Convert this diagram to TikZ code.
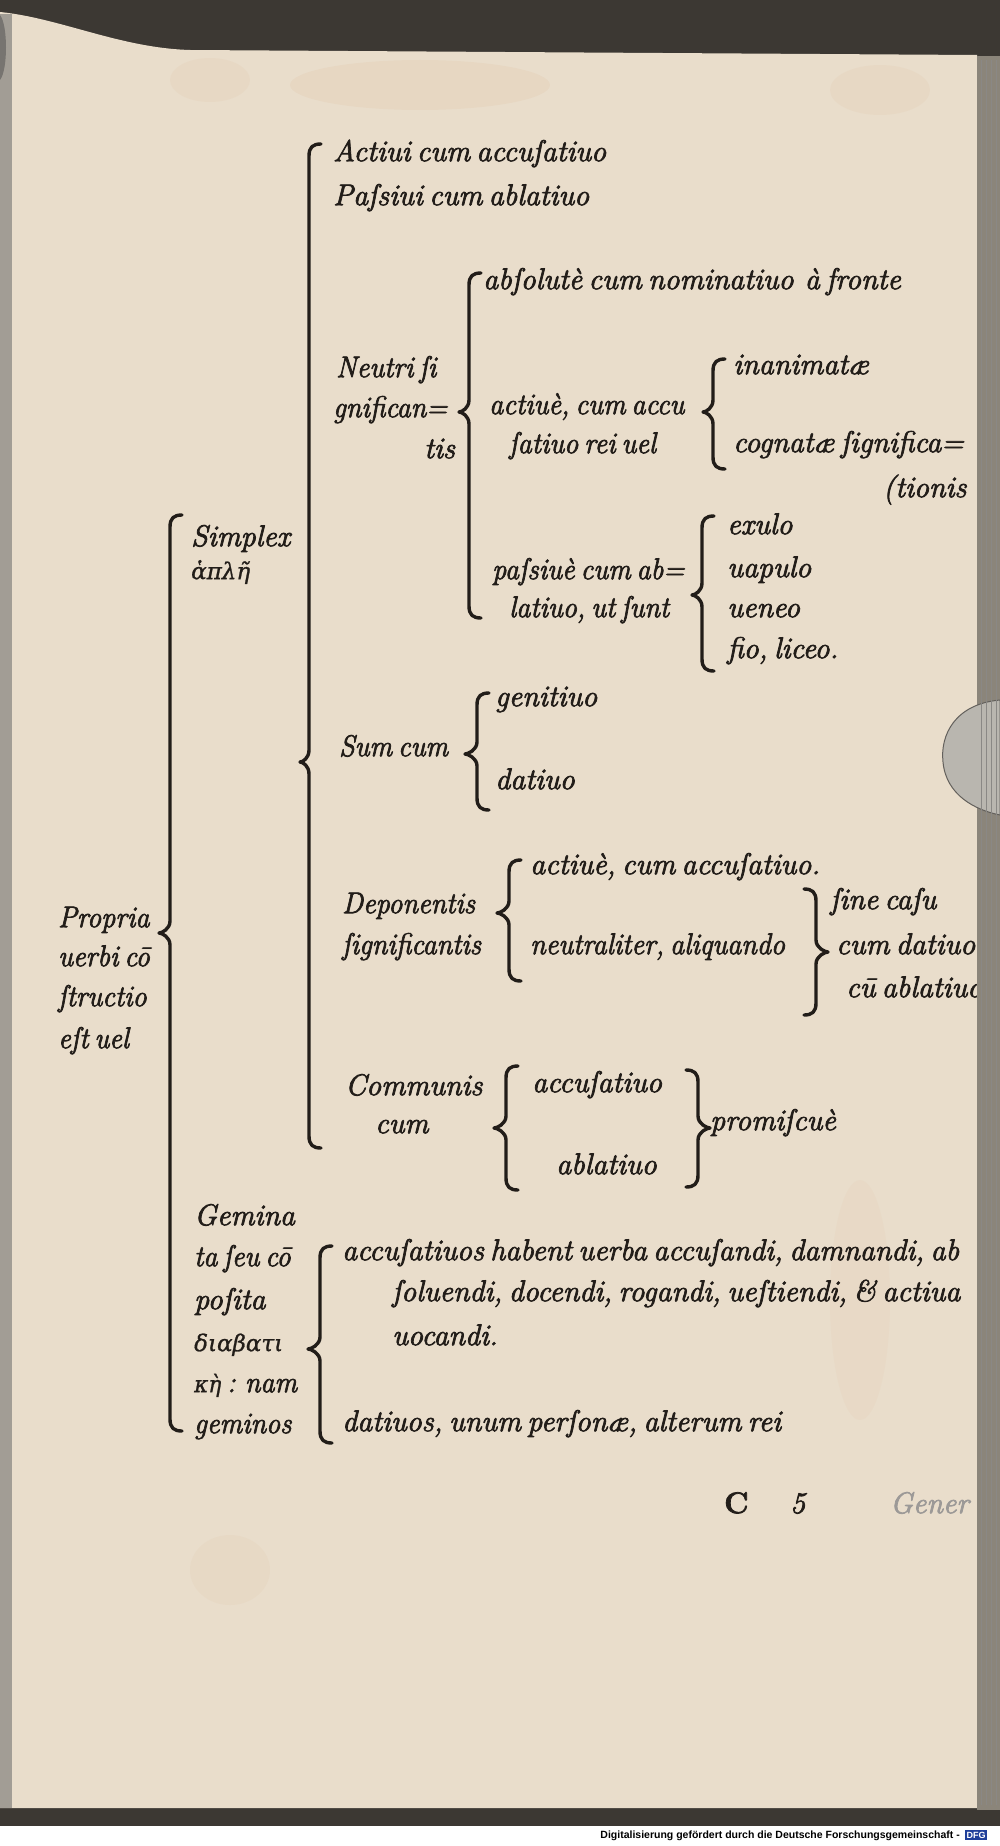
\documentclass[tikz,border=0pt]{standalone}
\usepackage{fontspec}
\newfontfamily\grk{DejaVu Serif}[FakeBold=1]
\newfontfamily\heavy{Latin Modern Roman}[FakeBold=2.5,WordSpace=0.6]
\newfontfamily\footfont{Liberation Sans}
\definecolor{ink}{HTML}{221D19}
\definecolor{paper}{HTML}{E9DDCB}
\definecolor{framec}{HTML}{3C3833}
\definecolor{edgec}{HTML}{8B857A}
\definecolor{stain}{HTML}{D9A77A}
\definecolor{dfgblue}{HTML}{1F3F9A}
\newcommand{\lbrk}[5]{%
\draw[brk] ({#1+12},{#2}) .. controls ({#1+4},{#2}) and ({#1},{#2+3}) .. ({#1},{#2+12})
 -- ({#1},{#3-12}) .. controls ({#1},{#3-4}) and ({#1-#5+3},{#3}) .. ({#1-#5},{#3})
 .. controls ({#1-#5+3},{#3}) and ({#1},{#3+4}) .. ({#1},{#3+12})
 -- ({#1},{#4-12}) .. controls ({#1},{#4-3}) and ({#1+4},{#4}) .. ({#1+12},{#4});}
\newcommand{\rbrk}[5]{%
\draw[brk] ({#1-12},{#2}) .. controls ({#1-4},{#2}) and ({#1},{#2+3}) .. ({#1},{#2+12})
 -- ({#1},{#3-12}) .. controls ({#1},{#3-4}) and ({#1+#5-3},{#3}) .. ({#1+#5},{#3})
 .. controls ({#1+#5-3},{#3}) and ({#1},{#3+4}) .. ({#1},{#3+12})
 -- ({#1},{#4-12}) .. controls ({#1},{#4-3}) and ({#1-4},{#4}) .. ({#1-12},{#4});}
\begin{document}
\begin{tikzpicture}[x=1pt,y=-1pt,
  txt/.style={anchor=mid west, inner sep=0pt, text=ink, font=\fontsize{30}{34}\selectfont\heavy\itshape},
  tight/.style={txt, xscale=0.94, transform shape},
  gtxt/.style={anchor=mid west, inner sep=0pt, text=ink, font=\fontsize{23}{26}\selectfont\grk\itshape},
  brk/.style={draw=ink, line width=3.4pt, line cap=round, line join=round}]
\useasboundingbox (0,0) rectangle (1000,1846);
% background
\fill[framec] (0,0) rectangle (1000,1846);
\fill[white] (0,1826) rectangle (1000,1846);
\fill[paper] (0,12) .. controls (60,18) and (120,48) .. (190,50) -- (977,55) -- (977,1808) -- (0,1808) -- cycle;
\fill[edgec!80!white] (0,14) rectangle (12,1808);
\fill[framec!70] (0,15) .. controls (8,25) and (8,70) .. (0,80) -- cycle;
\fill[edgec] (977,56) rectangle (1000,1810);
\foreach \xx in {981,986,991,996} \draw[framec!60, line width=0.8pt] (\xx,60) -- (\xx,1805);
\fill[stain, opacity=0.10] (420,85) ellipse (130 and 25);
\fill[stain, opacity=0.08] (210,80) ellipse (40 and 22);
\fill[stain, opacity=0.08] (880,90) ellipse (50 and 25);
\fill[stain, opacity=0.07] (230,1570) ellipse (40 and 35);
\fill[stain, opacity=0.06] (860,1300) ellipse (30 and 120);
% clip tab at right
\fill[edgec!60!white, draw=framec!80, line width=1pt] (1000,700) .. controls (955,704) and (940,735) .. (943,762) .. controls (946,795) and (975,810) .. (1000,815) -- cycle;

% brackets
\lbrk{309}{144}{762}{1148}{9}
\lbrk{469}{273}{412}{618}{10}
\lbrk{713}{359}{412}{469}{10}
\lbrk{702}{516}{595}{671}{10}
\lbrk{477}{693}{754}{810}{12}
\lbrk{509}{860}{913}{981}{12}
\rbrk{816}{889}{952}{1015}{12}
\lbrk{506}{1066}{1128}{1190}{12}
\rbrk{698}{1070}{1128}{1187}{12}
\lbrk{320}{1246}{1349}{1443}{12}
\lbrk{170}{515}{933}{1431}{11}

% texts
\node[txt] (t1) at (333,159) {Actiui cum accuſatiuo};
\node[txt] (t2) at (333,203) {Paſsiui cum ablatiuo};
\node[txt] (t3) at (483,287) {abſolutè cum nominatiuo\, à fronte};
\node[tight] (t4) at (336,375) {Neutri ſi};
\node[tight] (t5) at (333,415) {gnifican=};
\node[txt] (t6) at (424,456) {tis};
\node[tight] (t7) at (489,412) {actiuè, cum accu};
\node[tight] (t8) at (509,451) {ſatiuo rei uel};
\node[txt] (t9) at (733,372) {inanimatæ};
\node[txt] (t10) at (733,450) {cognatæ ſignifica=};
\node[txt] (t11) at (883,495) {(tionis};
\node[txt] (t12) at (191,544) {Simplex};
\node[gtxt] (t13) at (191,577) {ἁπλῆ};
\node[tight] (t14) at (492,577) {paſsiuè cum ab=};
\node[tight] (t15) at (509,615) {latiuo, ut ſunt};
\node[txt] (t16) at (727,532) {exulo};
\node[txt] (t17) at (727,575) {uapulo};
\node[txt] (t18) at (727,615) {ueneo};
\node[txt] (t19) at (727,656) {fio, liceo.};
\node[tight] (t20) at (339,754) {Sum cum};
\node[txt] (t21) at (495,704) {genitiuo};
\node[txt] (t22) at (495,787) {datiuo};
\node[tight] (t23) at (342,911) {Deponentis};
\node[tight] (t24) at (342,952) {ſignificantis};
\node[txt] (t25) at (530,872) {actiuè, cum accuſatiuo.};
\node[tight] (t26) at (530,952) {neutraliter, aliquando};
\node[txt] (t27) at (830,907) {ſine caſu};
\node[txt] (t28) at (836,952) {cum datiuo};
\node[txt] (t29) at (846,995) {cū ablatiuo};
\node[txt] (t30) at (345,1093) {Communis};
\node[txt] (t31) at (375,1131) {cum};
\node[txt] (t32) at (532,1090) {accuſatiuo};
\node[txt] (t33) at (556,1172) {ablatiuo};
\node[txt] (t34) at (710,1128) {promiſcuè};
\node[tight] (t35) at (58,925) {Propria};
\node[tight] (t36) at (58,964) {uerbi cō};
\node[tight] (t37) at (58,1004) {ſtructio};
\node[tight] (t38) at (58,1046) {eſt uel};
\node[txt] (t39) at (194,1223) {Gemina};
\node[tight] (t40) at (194,1264) {ta ſeu cō};
\node[txt] (t41) at (194,1307) {poſita};
\node[gtxt] (t42) at (194,1349) {διαβατι};
\node[tight] (t43) at (194,1390) {{\fontsize{23}{26}\selectfont\grk\itshape κὴ} : nam};
\node[tight] (t44) at (194,1431) {geminos};
\node[txt] (t45) at (342,1258) {accuſatiuos habent uerba accuſandi, damnandi, ab};
\node[txt] (t46) at (392,1299) {ſoluendi, docendi, rogandi, ueſtiendi, \& actiua};
\node[txt] (t47) at (392,1343) {uocandi.};
\node[txt] (t48) at (342,1429) {datiuos, unum perſonæ, alterum rei};
\node[txt, font=\fontsize{30}{34}\selectfont\heavy\bfseries] (p1) at (724,1511) {C};
\node[txt] (p2) at (790,1511) {5};
\node[txt, text=ink!45] (p3) at (890,1511) {Gener};
% right edge covers overflow
\fill[edgec] (977,820) rectangle (1000,1100);
\fill[edgec] (977,440) rectangle (1000,520);
\fill[edgec] (977,1230) rectangle (1000,1320);
\fill[edgec] (977,1480) rectangle (1000,1540);
\foreach \xx in {981,986,991,996} \draw[framec!60, line width=0.8pt] (\xx,440) -- (\xx,1540);
% footer
\node[anchor=mid east, inner sep=0pt, font=\footfont\bfseries\fontsize{10.5}{12}\selectfont] (foot) at (960,1836) {Digitalisierung gefördert durch die Deutsche Forschungsgemeinschaft -};
\node[anchor=mid west, fill=dfgblue, text=white, inner sep=1.5pt, font=\footfont\bfseries\fontsize{9}{10}\selectfont] (dfg) at (965,1836) {DFG};
\end{tikzpicture}
\end{document}
